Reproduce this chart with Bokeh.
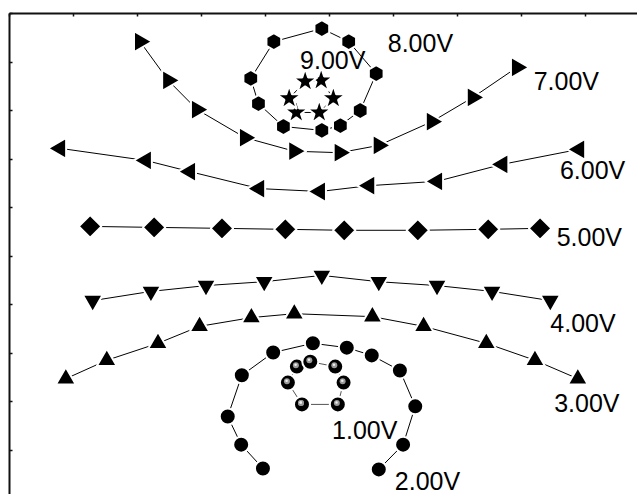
import numpy as np
from bokeh.plotting import figure
from bokeh.models import Range1d, FixedTicker, ColumnDataSource
from bokeh.core.properties import value
from bokeh.transform import dodge
from bokeh.embed import file_html
from bokeh.resources import INLINE

# ---- data ----
# 9.00V (stars, closed loop)
x9 = [4.62, 4.87, 5.06, 4.84, 4.48, 4.37, 4.62]
y9 = [8.60, 8.62, 8.25, 7.96, 7.96, 8.25, 8.60]
# 8.00V (hexagons, closed loop)
x8 = [4.88, 5.30, 5.73, 5.48, 5.17, 4.88, 4.28, 3.89, 3.77, 4.13, 4.88]
y8 = [9.69, 9.42, 8.76, 8.00, 7.69, 7.59, 7.67, 8.14, 8.66, 9.42, 9.69]
# 7.00V (right triangles)
x7 = [2.04, 2.48, 2.93, 3.68, 4.45, 5.16, 5.77, 6.60, 7.24, 7.93]
y7 = [9.42, 8.62, 8.02, 7.44, 7.16, 7.13, 7.28, 7.77, 8.27, 8.89]
# 6.00V (left triangles)
x6 = [0.79, 2.13, 2.82, 3.90, 4.85, 5.62, 6.68, 7.70, 8.90]
y6 = [7.22, 6.97, 6.74, 6.39, 6.33, 6.45, 6.54, 6.89, 7.20]
# 5.00V (diamonds)
x5 = [1.26, 2.26, 3.32, 4.31, 5.23, 6.38, 7.48, 8.29]
y5 = [5.61, 5.59, 5.57, 5.55, 5.53, 5.53, 5.55, 5.57]
# 4.00V (down triangles)
x4 = [1.30, 2.21, 3.07, 3.98, 4.88, 5.77, 6.68, 7.54, 8.45]
y4 = [4.08, 4.27, 4.39, 4.47, 4.60, 4.47, 4.39, 4.27, 4.08]
# 3.00V (up triangles)
x3 = [0.88, 1.52, 2.32, 2.97, 3.78, 4.45, 5.67, 6.47, 7.45, 8.21, 8.88]
y3 = [2.47, 2.85, 3.20, 3.55, 3.73, 3.81, 3.75, 3.55, 3.20, 2.85, 2.47]
# 2.00V (circles)
x2 = [3.96, 3.62, 3.41, 3.63, 4.12, 4.74, 5.27, 5.66, 6.10, 6.34, 6.15, 5.77]
y2 = [0.62, 1.11, 1.69, 2.54, 3.01, 3.20, 3.11, 2.95, 2.64, 1.90, 1.11, 0.60]
# 1.00V (spheres, closed loop)
x1 = [4.57, 4.35, 4.49, 4.70, 5.09, 5.22, 5.13, 4.57]
y1 = [1.94, 2.39, 2.72, 2.82, 2.72, 2.39, 1.94, 1.94]

# labels
label_text = ["9.00V", "8.00V", "7.00V", "6.00V", "5.00V", "4.00V", "3.00V", "1.00V", "2.00V"]
label_x = [4.54, 5.91, 8.19, 8.60, 8.55, 8.45, 8.51, 5.04, 6.02]
label_y = [9.05, 9.40, 8.60, 6.78, 5.40, 3.61, 1.96, 1.42, 0.37]

ticks = list(range(0, 11))

# ---- figure ----
W, H = 637, 494
BL, BT = 9, 13
p = figure(width=W, height=H, output_backend="svg", toolbar_location=None,
           x_range=Range1d(0, (W - BL) / 64.0), y_range=Range1d(10 - (H - BT) / 48.5, 10),
           x_axis_location="above", min_border_left=BL, min_border_top=BT,
           min_border_right=0, min_border_bottom=0)
p.outline_line_color = None
p.xgrid.grid_line_color = None
p.ygrid.grid_line_color = None
p.background_fill_color = "white"
p.border_fill_color = "white"

for ax in (p.xaxis[0], p.yaxis[0]):
    ax.ticker = FixedTicker(ticks=ticks)
    ax.major_label_overrides = {t: "" for t in ticks}
    ax.major_tick_in = 3
    ax.major_tick_out = 0
    ax.minor_tick_line_color = None
    ax.major_label_standoff = 0
    ax.axis_line_width = 2
    ax.axis_line_color = "#111111"
    ax.major_tick_line_color = "#111111"
    ax.major_tick_line_width = 1.5

def series(xs, ys, marker, size, angle=0.0, line_color="black"):
    src = ColumnDataSource(dict(x=xs, y=ys))
    p.line("x", "y", source=src, line_color=line_color, line_width=1)
    p.scatter("x", "y", source=src, marker=marker, size=size, angle=angle,
              fill_color="black", line_color="white", line_width=2)
    return src

series(x9, y9, "star", 26)
series(x8, y8, "hex", 17, angle=np.pi / 2)
series(x7, y7, "triangle", 21, angle=-np.pi / 2)
series(x6, y6, "triangle", 21, angle=np.pi / 2)
series(x5, y5, "square", 16, angle=np.pi / 4)
series(x4, y4, "inverted_triangle", 20)
series(x3, y3, "triangle", 20)
series(x2, y2, "circle", 16)
s1 = series(x1, y1, "circle", 16, line_color="#555555")
# sphere highlight
p.scatter(x=dodge("x", -0.015, range=p.x_range), y=dodge("y", 0.03, range=p.y_range),
          source=s1, marker="circle", size=6, fill_color="#9a9a9a", line_color=None)
p.scatter(x=dodge("x", -0.02, range=p.x_range), y=dodge("y", 0.04, range=p.y_range),
          source=s1, marker="circle", size=2.5, fill_color="#eeeeee", line_color=None)

lab = ColumnDataSource(dict(x=label_x, y=label_y, text=label_text))
p.text("x", "y", text="text", source=lab, text_font=value("Liberation Sans"),
       text_font_size="25px", text_align="left", text_baseline="middle",
       text_color="black")

open("out.html", "w").write(file_html(p, INLINE))
